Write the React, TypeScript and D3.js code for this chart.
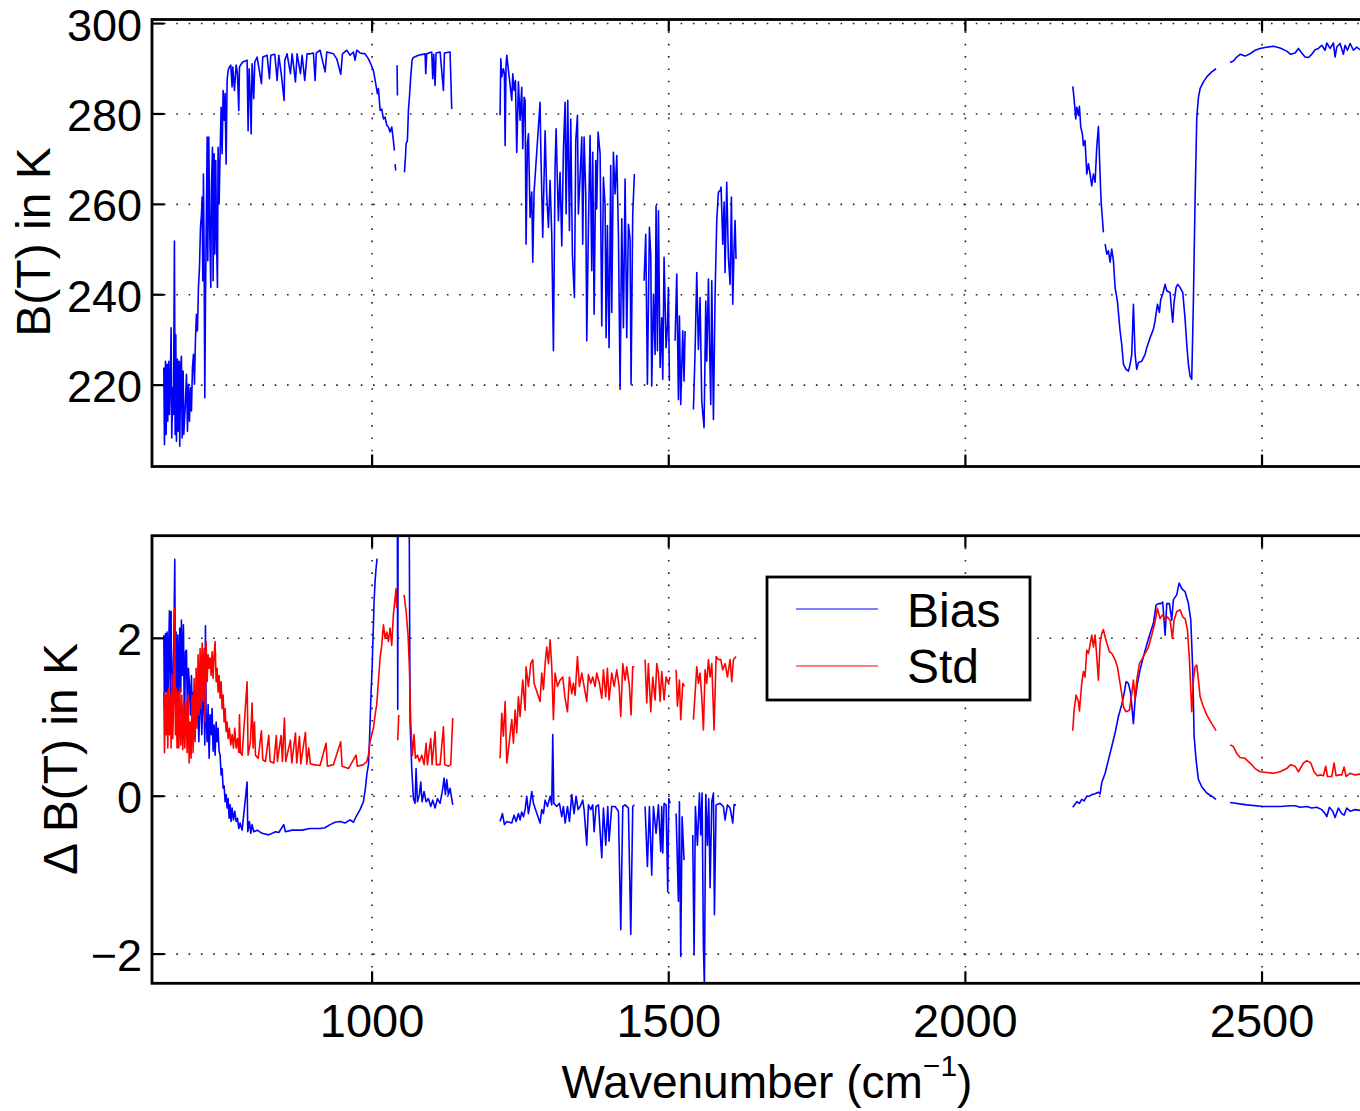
import React from 'react'
import * as d3 from 'd3'

const xTicks = [1000, 1500, 2000, 2500]
const btTicks = [220, 240, 260, 280, 300]
const dbtTicks = [-2, 0, 2]

// [wavenumber, value]; null value = gap in the spectrum
const btA = [[648.9,223.9],[650.0,206.8],[651.7,225.3],[652.8,209.1],[654.5,224.6],[655.6,212.0],[657.3,225.3],[658.4,213.5],[660.1,222.4],[661.2,232.7],[662.3,208.3],[664.0,219.4],[665.2,213.5],[666.8,251.9],[668.0,209.1],[669.1,231.2],[670.2,207.6],[671.9,225.7],[673.0,209.8],[674.7,225.3],[675.8,206.5],[677.5,224.6],[678.6,226.4],[679.8,208.3],[681.5,223.1],[682.6,209.1],[685.4,216.5],[687.1,222.4],[688.8,209.8],[690.4,220.2],[692.1,212.0],[693.8,219.4],[695.5,214.3],[697.2,223.9],[698.9,226.8],[700.6,220.2],[702.2,229.8],[703.9,235.7],[705.6,232.0],[707.3,241.6],[709.0,246.0],[710.7,254.9],[712.4,257.8],[713.5,261.6],[714.6,243.1],[715.7,266.7],[716.8,249.0],[718.0,217.2],[719.1,237.9],[720.8,259.3],[722.0,274.9],[723.0,247.5],[724.7,274.9],[726.4,253.4],[728.1,241.6],[729.2,263.8],[730.9,272.6],[732.0,243.1],[733.7,271.2],[734.8,249.0],[736.5,269.7],[737.6,253.4],[739.3,241.6],[740.4,272.6],[742.1,260.1],[743.8,271.2],[745.5,281.5],[747.2,271.2],[748.9,285.2],[750.6,278.6],[752.2,284.5],[753.9,268.9],[755.6,287.4],[757.3,289.6],[759.5,290.4],[761.8,290.8],[764.0,286.0],[765.2,290.4],[768.0,285.2],[770.8,290.8],[773.0,288.9],[775.3,280.8],[776.4,290.4],[779.8,291.1],[782.0,291.5],[789.3,291.9],[791.0,276.3],[792.7,290.0],[794.4,284.8],[796.1,275.6],[797.7,291.1],[800.5,283.4],[802.2,291.5],[806.2,292.6],[813.5,286.7],[815.7,292.6],[823.0,293.0],[827.0,287.8],[829.2,293.0],[836.0,293.2],[839.9,287.4],[842.7,293.0],[847.2,288.5],[851.7,283.0],[852.8,291.9],[856.7,293.3],[862.3,288.9],[865.2,293.3],[870.8,287.1],[873.6,293.3],[879.2,288.9],[882.0,293.0],[886.5,287.4],[890.4,293.3],[896.0,293.3],[901.1,293.5],[903.9,287.4],[906.0,293.5],[912.3,294.1],[920.8,289.3],[923.6,293.7],[934.8,293.3],[940.4,292.2],[947.2,288.8],[950.0,293.3],[957.3,294.1],[962.9,293.0],[968.5,293.7],[971.3,291.9],[974.1,294.1],[979.7,293.5],[988.2,293.3],[993.8,292.2],[997.7,291.1],[1002.2,289.6],[1005.6,287.1],[1008.9,284.5],[1010.6,285.6],[1013.5,280.8],[1016.2,281.1],[1019.1,278.9],[1021.9,279.3],[1024.7,277.5],[1027.5,277.1],[1030.3,276.0],[1033.1,277.1],[1035.9,274.1],[1037.6,271.9],[1038.2,null],[1038.7,268.9],[1039.8,267.5],[1041.0,null],[1042.1,290.8],[1042.7,284.1],[1048.0,null],[1054.5,267.1],[1056.2,270.4],[1057.3,273.4],[1059.5,274.1],[1061.2,280.8],[1062.9,283.7],[1065.1,288.2],[1067.4,291.9],[1069.6,292.5],[1078.1,293.0],[1089.3,293.3],[1090.4,288.9],[1092.1,293.3],[1100.5,293.7],[1102.2,287.8],[1103.9,293.2],[1106.1,286.3],[1107.8,293.5],[1114.6,293.7],[1120.2,285.2],[1121.9,293.5],[1131.4,293.7],[1134.2,281.1]]

const btB = [[1215.7,279.7],[1216.9,292.2],[1218.5,288.2],[1221.3,290.0],[1223.0,288.9],[1224.2,273.0],[1225.8,290.8],[1227.0,293.0],[1235.4,283.0],[1237.1,288.9],[1239.3,285.2],[1241.6,287.4],[1243.8,271.5],[1246.6,287.1],[1249.4,278.6],[1252.2,285.9],[1253.9,272.3],[1256.2,283.7],[1257.9,283.0],[1259.5,251.2],[1261.8,273.4],[1263.5,275.6],[1266.3,257.1],[1269.1,262.7],[1270.8,247.2],[1273.0,262.7],[1283.1,282.6],[1284.3,272.6],[1287.6,252.7],[1291.6,276.3],[1294.4,261.9],[1297.2,254.9],[1300.0,265.3],[1302.8,253.1],[1305.6,227.6],[1308.4,268.2],[1310.1,276.7],[1314.0,256.4],[1316.8,267.1],[1319.7,250.8],[1322.5,272.3],[1325.3,282.6],[1327.0,257.9],[1329.8,283.0],[1332.6,254.2],[1334.8,278.9],[1337.6,249.0],[1339.3,243.8],[1341.0,239.4],[1343.3,274.1],[1346.1,279.7],[1347.7,257.9],[1353.4,274.9],[1355.0,251.2],[1357.3,274.9],[1360.1,262.3],[1361.8,229.8],[1364.6,254.9],[1367.4,275.2],[1370.2,245.3],[1371.9,271.5],[1374.2,235.7],[1377.0,269.7],[1378.6,259.0],[1380.9,276.0],[1384.3,271.2],[1387.1,233.1],[1389.9,266.0],[1392.7,259.7],[1394.4,230.5],[1396.6,255.3],[1399.4,228.3],[1402.2,268.6],[1403.9,236.1],[1406.7,271.5],[1409.5,262.3],[1412.4,270.8],[1415.2,253.1],[1418.0,219.1],[1420.8,256.8],[1423.6,232.7],[1426.4,265.6],[1429.2,230.5],[1432.0,255.6],[1434.8,252.3],[1436.5,220.2],[1439.3,257.9],[1442.1,266.7],[1450,null],[1458.4,243.1],[1461.2,253.4],[1464.0,220.2],[1467.4,254.9],[1469.7,248.6],[1471.3,219.8],[1474.2,240.1],[1477.0,226.8],[1478.6,259.7],[1480.9,227.6],[1482.6,258.6],[1485.4,223.9],[1488.2,234.9],[1489.9,221.3],[1492.1,248.3],[1495.5,228.3],[1497.8,233.1],[1499.4,241.6],[1501.1,220.9],[1505,null],[1510.7,229.8],[1513.5,244.6],[1516.3,216.8],[1518.0,235.3],[1520.2,215.7],[1523.6,232.0],[1525.8,220.9],[1527.5,232.0],[1535,null],[1541.6,214.6],[1544.4,227.6],[1547.2,244.9],[1550.0,227.9],[1552.8,239.4],[1555.6,216.5],[1559.5,210.6],[1562.4,238.6],[1564.0,225.3],[1566.9,243.5],[1568.5,230.5],[1570.8,215.7],[1572.5,243.1],[1575.3,212.4],[1578.1,240.1],[1580.9,256.4],[1583.7,262.7],[1586.5,263.0],[1588.2,263.8],[1591.0,251.2],[1593.3,260.5],[1594.9,244.9],[1597.7,264.9],[1600.5,248.3],[1603.4,242.3],[1605.6,261.6],[1607.9,237.9],[1610.1,250.5],[1611.8,256.4],[1613.4,247.9]]

const btC = [[2181.0,286.1],[2183.2,283.4],[2186.0,278.9],[2187.7,281.5],[2190.5,279.7],[2192.2,281.7],[2194.4,277.1],[2197.2,275.6],[2198.9,273.0],[2201.7,274.1],[2204.6,266.7],[2207.4,269.0],[2210.2,266.7],[2213.0,264.1],[2215.8,266.7],[2218.6,264.9],[2221.4,272.6],[2224.2,277.2],[2227.0,266.7],[2228.7,260.8],[2232.6,253.8],[2234.0,null],[2235.5,251.2],[2238.3,249.0],[2241.1,249.7],[2243.9,247.2],[2246.7,250.1],[2249.5,247.5],[2252.3,241.6],[2256.2,238.6],[2260.7,232.0],[2263.5,229.0],[2266.4,224.6],[2270.8,223.5],[2274.8,223.1],[2277.6,224.6],[2280.4,226.8],[2283.2,237.9],[2286.0,226.8],[2288.8,223.5],[2291.6,225.0],[2297.3,225.3],[2302.9,226.8],[2305.7,228.3],[2311.3,230.5],[2316.9,232.4],[2319.7,234.2],[2323.7,237.9],[2327.0,236.1],[2329.3,239.0],[2332.6,240.1],[2336.6,242.3],[2339.4,240.9],[2345.0,240.5],[2347.8,236.1],[2349.5,233.9],[2351.7,238.3],[2355.1,241.6],[2357.9,242.3],[2361.9,241.6],[2366.4,240.5],[2370.3,234.6],[2373.1,229.0],[2375.9,224.6],[2378.7,222.0],[2381.5,221.3],[2384.3,238.6],[2387.1,260.8],[2390.0,279.3],[2392.8,283.7],[2395.6,285.6],[2401.2,287.1],[2406.8,288.2],[2415.2,289.3],[2422.5,290.0],[2435,null],[2446.1,291.4],[2451.7,291.7],[2457.4,292.6],[2463.0,293.2],[2471.4,292.8],[2479.8,293.3],[2488.3,294.1],[2496.7,294.5],[2505.1,294.7],[2519.2,295.0],[2530.4,294.6],[2541.6,293.9],[2548.4,293.2],[2555.7,293.5],[2561.3,294.5],[2566.9,293.5],[2572.5,292.6],[2578.1,292.5],[2583.8,293.2],[2589.4,294.2],[2595.0,294.5],[2600.6,295.2],[2606.2,294.1],[2609.1,295.7],[2614.7,294.5],[2620.3,295.7],[2623.1,292.6],[2625.9,294.8],[2631.5,295.6],[2637.1,293.2],[2640.0,295.2],[2643.9,294.1],[2648.4,295.6],[2654.0,294.1],[2659.6,294.8],[2665.2,294.2]]

const biasA = [[648.9,2.04],[650.0,1.11],[651.7,2.06],[652.8,1.32],[654.5,2.08],[655.6,0.78],[657.3,1.96],[658.4,2.35],[660.1,1.20],[661.2,2.34],[662.3,0.73],[664.0,1.53],[665.7,1.91],[667.4,3.00],[668.5,1.20],[669.6,2.08],[670.8,0.94],[672.5,2.04],[674.1,1.11],[675.8,2.13],[677.5,1.32],[678.6,2.23],[680.3,1.53],[682.0,2.17],[683.7,0.78],[685.4,1.83],[687.1,1.85],[688.8,0.94],[690.4,1.62],[692.1,1.41],[693.8,1.03],[695.5,1.53],[697.2,0.90],[698.9,1.32],[700.6,0.73],[702.2,1.28],[704.5,0.94],[706.2,1.32],[707.9,0.69],[709.5,1.11],[711.2,1.32],[712.9,0.78],[714.6,1.20],[716.3,1.30],[718.0,0.65],[719.1,2.16],[720.2,1.03],[721.9,0.69],[723.6,1.16],[725.3,0.48],[726.9,1.03],[728.6,0.78],[730.3,1.11],[732.0,0.57],[733.7,0.90],[735.4,0.52],[737.1,0.94],[738.8,0.69],[740.4,0.86],[742.1,0.57],[743.8,0.52],[745.5,0.27],[747.2,0.35],[748.9,0.10],[750.6,0.13],[752.2,-0.07],[753.9,0.02],[755.6,-0.15],[757.3,-0.03],[759.0,-0.28],[760.7,-0.11],[762.3,-0.32],[764.0,-0.15],[766.3,-0.30],[768.5,-0.19],[770.8,-0.32],[773.0,-0.28],[775.3,-0.41],[777.5,-0.34],[780.9,-0.43],[789.3,0.18],[790.4,-0.45],[793.2,-0.32],[795.5,-0.47],[797.7,-0.36],[800.5,-0.45],[806.2,-0.43],[814.6,-0.47],[825.8,-0.49],[837.1,-0.45],[842.7,-0.46],[851.1,-0.36],[853.9,-0.45],[865.2,-0.43],[882.0,-0.43],[895.5,-0.41],[912.3,-0.41],[920.7,-0.40],[929.2,-0.36],[937.6,-0.33],[946.0,-0.32],[954.4,-0.34],[962.9,-0.30],[968.5,-0.33],[973.0,-0.26],[979.7,-0.17],[985.3,-0.07],[988.7,0.10],[991.0,0.27],[993.8,0.40],[995.5,0.69],[996.6,0.94],[998.3,1.32],[1000.0,1.62],[1001.1,1.91],[1002.2,2.17],[1003.3,2.46],[1005.0,2.72],[1006.7,2.89],[1008.4,3.01],[1010,null],[1042.5,3.6],[1043.2,1.1],[1043.8,3.6],[1048,null],[1055,3.6],[1062.5,3.6],[1064.0,0.94],[1066.8,0.35],[1069.6,-0.03],[1072.4,-0.09],[1074.1,0.35],[1076.4,-0.07],[1079.7,0.02],[1082.0,0.18],[1084.2,-0.07],[1087.6,0.06],[1091.0,-0.07],[1094.9,-0.03],[1098.8,-0.13],[1102.2,-0.05],[1106.1,-0.15],[1110.1,-0.03],[1114.6,-0.09],[1119.1,0.10],[1121.3,0.23],[1123.5,0.02],[1125.8,0.21],[1128.6,0.02],[1131.4,0.10],[1134.2,-0.03],[1135.9,-0.11]]

const biasB = [[1215.7,-0.32],[1219.7,-0.22],[1223.0,-0.36],[1227.0,-0.32],[1235.4,-0.34],[1239.3,-0.24],[1242.7,-0.32],[1246.6,-0.22],[1249.4,-0.30],[1252.2,-0.20],[1255.1,-0.26],[1257.9,-0.17],[1260.7,0.00],[1263.5,-0.22],[1266.3,-0.09],[1269.1,0.06],[1271.9,-0.09],[1283.1,-0.34],[1285.9,-0.17],[1288.8,-0.22],[1291.6,-0.05],[1295.5,-0.13],[1300.0,0.00],[1302.8,-0.11],[1304.5,0.78],[1306.2,-0.09],[1311.2,-0.13],[1315.7,-0.09],[1319.7,-0.26],[1322.5,-0.13],[1325.3,-0.34],[1329.3,-0.13],[1332.6,-0.32],[1336.5,0.02],[1340.4,-0.22],[1343.8,0.00],[1347.2,-0.17],[1350.6,-0.13],[1355.0,-0.05],[1357.3,-0.17],[1361.8,-0.62],[1364.6,-0.11],[1368.5,-0.17],[1371.9,-0.11],[1374.2,-0.45],[1377.5,-0.13],[1381.5,-0.11],[1387.1,-0.78],[1389.9,-0.15],[1393.8,-0.62],[1397.2,-0.13],[1399.4,-0.57],[1403.9,-0.13],[1409.5,-0.13],[1415.2,-0.19],[1419.1,-1.69],[1422.5,-0.13],[1426.4,-0.11],[1432.0,-0.15],[1436.0,-1.75],[1439.3,-0.13],[1442.1,-0.11],[1450,null],[1460.1,-0.13],[1464.0,-0.89],[1467.4,-0.13],[1471.3,-1.00],[1474.2,-0.13],[1478.6,-0.47],[1482.6,-0.11],[1486.5,-0.70],[1488.2,-0.13],[1489.9,-0.72],[1492.1,-0.09],[1495.5,-0.11],[1498.3,-1.21],[1500.0,-0.03],[1502.2,-0.09],[1505,null],[1512.4,-0.22],[1516.3,-1.33],[1518.0,-0.07],[1520.2,-2.03],[1522.5,-0.26],[1525.8,-0.81],[1535,null],[1540.4,-0.49],[1542.7,-2.01],[1544.9,-0.13],[1548.3,-0.62],[1551.7,0.04],[1553.9,-0.49],[1556.2,0.04],[1558.4,-1.90],[1560.1,-2.41],[1562.4,0.02],[1565.2,-0.62],[1567.4,-0.03],[1569.7,-1.16],[1572.5,-0.07],[1575.3,0.04],[1577.0,-1.50],[1579.8,-0.11],[1586.5,-0.09],[1592.1,-0.13],[1594.9,-0.30],[1598.9,-0.11],[1603.4,-0.15],[1607.9,-0.34],[1610.1,-0.11],[1613.4,-0.11]]

const biasC = [[2181.0,-0.14],[2187.7,-0.07],[2192.2,-0.09],[2196.1,-0.04],[2200.1,-0.06],[2204.6,0.00],[2209.0,0.00],[2213.0,0.02],[2218.6,0.03],[2224.2,0.05],[2227.0,0.03],[2229.8,0.17],[2235.5,0.29],[2241.1,0.46],[2246.7,0.63],[2252.3,0.80],[2257.9,1.01],[2263.5,1.16],[2267.5,1.30],[2270.8,1.45],[2274.8,1.43],[2278.7,1.30],[2283.2,0.92],[2286.0,1.22],[2290.0,1.43],[2294.4,1.60],[2300.1,1.77],[2305.7,1.92],[2311.3,2.06],[2316.9,2.19],[2321.4,2.42],[2325.3,2.44],[2329.3,2.44],[2332.6,2.46],[2336.6,2.04],[2339.4,2.44],[2343.9,2.44],[2347.8,2.23],[2350.6,2.49],[2356.2,2.55],[2360.2,2.70],[2364.7,2.63],[2370.3,2.59],[2375.9,2.44],[2379.9,2.23],[2383.2,1.60],[2385.5,0.76],[2388.8,0.46],[2392.8,0.21],[2398.4,0.12],[2406.8,0.04],[2415.2,0.00],[2422.5,-0.04],[2435,null],[2446.1,-0.08],[2474.2,-0.11],[2502.3,-0.13],[2530.4,-0.13],[2547.3,-0.12],[2555.7,-0.12],[2564.1,-0.14],[2575.3,-0.13],[2583.8,-0.15],[2592.2,-0.14],[2600.6,-0.17],[2606.2,-0.22],[2609.1,-0.26],[2613.5,-0.14],[2619.2,-0.19],[2623.1,-0.27],[2628.7,-0.15],[2634.3,-0.22],[2638.3,-0.24],[2642.7,-0.15],[2648.4,-0.19],[2656.8,-0.17],[2665.2,-0.18]]

const stdA = [[648.9,1.32],[650.0,0.55],[651.7,1.28],[652.8,0.78],[654.5,1.32],[655.6,0.61],[657.3,1.37],[658.4,0.78],[660.1,1.28],[661.2,0.61],[662.3,1.54],[664.0,0.73],[665.7,1.28],[667.4,2.38],[668.5,0.78],[669.6,1.37],[671.3,0.61],[673.0,1.32],[674.1,0.61],[675.8,1.37],[677.5,0.65],[679.2,1.28],[680.9,0.59],[682.6,1.20],[684.3,0.61],[686.5,1.20],[688.2,0.55],[689.9,1.28],[691.6,0.42],[693.3,0.94],[694.9,0.48],[696.6,1.28],[698.3,0.55],[700.0,1.49],[701.7,0.69],[703.4,1.62],[705.0,0.86],[706.7,1.79],[708.4,1.03],[710.1,1.87],[711.8,1.11],[713.5,1.94],[715.2,1.20],[716.8,1.87],[718.5,0.94],[720.2,1.96],[721.9,1.45],[723.6,1.79],[725.3,1.62],[726.9,1.75],[728.6,1.53],[730.3,1.83],[732.0,1.49],[733.7,1.79],[735.4,1.96],[737.1,1.45],[738.8,1.62],[740.4,1.32],[742.1,1.53],[743.8,1.24],[745.5,1.45],[747.2,1.11],[748.9,1.28],[750.6,0.94],[752.2,1.11],[753.9,0.82],[755.6,0.94],[757.3,0.73],[759.5,0.86],[761.8,0.65],[764.0,0.78],[766.3,0.61],[768.5,0.86],[770.8,0.61],[773.0,0.73],[775.3,0.55],[776.4,1.03],[778.1,0.55],[780.9,0.52],[789.3,1.45],[791.0,0.52],[794.9,0.69],[797.7,1.18],[799.4,0.61],[801.7,0.94],[803.4,0.52],[807.9,0.48],[813.5,0.83],[815.7,0.46],[820.2,0.44],[825.8,0.77],[828.1,0.44],[834.2,0.42],[838.6,0.77],[840.4,0.44],[846.6,0.77],[848.8,0.44],[852.2,0.99],[854.4,0.44],[862.3,0.71],[864.6,0.42],[870.8,0.80],[873.0,0.42],[877.5,0.76],[879.8,0.41],[887.6,0.81],[889.9,0.41],[893.2,0.61],[896.0,0.41],[901.1,0.40],[912.3,0.39],[922.4,0.67],[924.7,0.38],[934.8,0.40],[947.1,0.69],[949.4,0.38],[960.1,0.35],[973.0,0.52],[975.2,0.38],[985.3,0.40],[991.0,0.44],[993.8,0.52],[996.6,0.69],[999.4,0.78],[1002.2,0.86],[1005.0,1.03],[1007.8,1.16],[1010.6,1.45],[1013.4,1.75],[1016.2,1.91],[1019.1,2.17],[1021.9,2.00],[1024.7,2.08],[1027.5,1.96],[1030.3,2.13],[1033.1,1.91],[1035.9,2.30],[1038.7,2.51],[1040.4,2.63],[1041.5,2.38],[1042.0,null],[1043.2,0.71],[1044.9,1.03],[1048,null],[1053.9,2.55],[1057.3,2.34],[1060.6,2.04],[1062.9,1.62],[1065.1,0.94],[1067.9,0.52],[1070.7,0.78],[1073.0,0.48],[1076.4,0.52],[1079.7,0.44],[1083.7,0.52],[1087.6,0.40],[1091.0,0.67],[1093.2,0.40],[1098.8,0.73],[1101.1,0.40],[1106.1,0.82],[1108.4,0.40],[1114.6,0.40],[1120.2,0.88],[1122.4,0.40],[1128.6,0.38],[1132.5,0.40],[1135.9,0.99]]

const stdB = [[1215.7,0.48],[1218.5,1.05],[1221.3,0.76],[1224.2,1.20],[1227.0,0.42],[1229.8,0.59],[1235.4,0.97],[1238.2,0.67],[1241.0,1.09],[1243.8,0.80],[1246.6,1.26],[1249.4,1.01],[1253.9,1.47],[1257.9,1.09],[1259.5,1.64],[1263.5,1.39],[1267.4,1.68],[1270.8,1.73],[1273.0,1.43],[1283.1,1.20],[1285.9,1.56],[1288.8,1.35],[1291.6,1.68],[1294.4,1.89],[1297.2,1.68],[1300.0,1.98],[1302.8,1.64],[1305.6,0.97],[1308.4,1.56],[1312.4,1.39],[1316.8,1.47],[1321.3,1.51],[1325.3,1.24],[1329.2,1.07],[1332.6,1.51],[1336.5,1.30],[1339.3,1.43],[1342.1,1.28],[1346.1,1.77],[1349.4,1.39],[1353.4,1.56],[1357.3,1.39],[1361.8,1.20],[1364.6,1.54],[1368.5,1.43],[1371.9,1.51],[1375.8,1.39],[1378.6,1.56],[1383.1,1.43],[1387.1,1.24],[1389.9,1.60],[1393.8,1.26],[1396.6,1.62],[1399.4,1.22],[1403.9,1.56],[1407.9,1.39],[1412.4,1.60],[1416.3,1.39],[1419.1,1.01],[1422.5,1.68],[1426.4,1.47],[1429.2,1.64],[1433.7,1.39],[1436.5,1.03],[1439.3,1.64],[1442.1,1.64],[1450,null],[1460.1,1.73],[1462.9,1.18],[1465.7,1.68],[1469.7,1.07],[1473.0,1.51],[1477.0,1.22],[1479.8,1.68],[1482.6,1.56],[1485.4,1.20],[1488.2,1.58],[1492.1,1.22],[1495.5,1.51],[1499.4,1.43],[1502.2,1.51],[1505,null],[1512.4,1.60],[1514.6,1.14],[1518.0,1.47],[1520.2,0.97],[1523.6,1.43],[1526.4,1.39],[1535,null],[1541.6,0.97],[1544.4,1.30],[1547.2,1.64],[1550.0,1.43],[1552.8,1.56],[1555.6,1.26],[1558.4,0.84],[1561.2,1.60],[1564.0,1.43],[1566.9,1.73],[1569.7,1.51],[1572.5,1.68],[1576.4,0.84],[1579.8,1.77],[1583.7,1.73],[1587.7,1.73],[1591.0,1.60],[1595.0,1.68],[1598.9,1.51],[1603.4,1.73],[1606.2,1.45],[1609.0,1.73],[1613.4,1.77]]

const stdC = [[2181.0,0.83],[2183.2,1.09],[2186.6,1.28],[2190.5,1.20],[2192.2,1.08],[2196.1,1.43],[2198.9,1.58],[2201.7,1.51],[2204.6,1.85],[2207.4,1.81],[2210.2,1.92],[2213.0,2.04],[2215.8,1.89],[2218.6,2.04],[2221.4,1.77],[2224.2,1.47],[2227.0,1.94],[2229.8,2.06],[2232.6,2.11],[2235.5,2.02],[2238.3,1.94],[2242.8,1.83],[2246.7,1.81],[2252.3,1.73],[2256.2,1.64],[2260.7,1.43],[2263.5,1.30],[2266.4,1.13],[2270.8,1.07],[2276.5,1.09],[2280.4,1.30],[2283.2,1.47],[2286.0,1.22],[2288.8,1.47],[2293.3,1.68],[2297.3,1.73],[2302.9,1.81],[2308.5,1.89],[2314.1,2.04],[2319.7,2.21],[2323.7,2.38],[2328.1,2.25],[2332.6,2.30],[2336.6,2.23],[2340.5,2.27],[2345.0,2.23],[2348.9,2.00],[2351.7,2.23],[2356.2,2.34],[2361.9,2.36],[2366.4,2.27],[2370.3,2.25],[2374.2,2.11],[2377.6,1.73],[2381.5,1.07],[2384.3,1.47],[2387.1,1.64],[2390.0,1.66],[2392.8,1.47],[2395.6,1.26],[2401.2,1.13],[2406.8,1.03],[2415.2,0.92],[2422.5,0.83],[2435,null],[2446.1,0.65],[2451.7,0.63],[2457.4,0.54],[2463.0,0.49],[2471.4,0.48],[2479.8,0.42],[2488.3,0.35],[2496.7,0.31],[2507.9,0.30],[2519.2,0.29],[2530.4,0.31],[2541.6,0.35],[2548.4,0.40],[2555.7,0.38],[2561.3,0.31],[2569.7,0.42],[2575.3,0.45],[2582.1,0.42],[2587.7,0.31],[2593.3,0.26],[2598.9,0.27],[2603.4,0.26],[2607.4,0.38],[2610.2,0.25],[2617.5,0.25],[2621.4,0.42],[2624.8,0.26],[2630.4,0.27],[2634.3,0.27],[2638.3,0.37],[2641.6,0.25],[2648.4,0.29],[2656.8,0.27],[2665.2,0.28]]

const font = '"Liberation Sans", Arial, Helvetica, sans-serif'
const blue = '#0000ff'
const red = '#ff0000'

const width = 1360
const height = 1111

const x = d3.scaleLinear().domain([629, 2700]).range([152, 1380.7])
const yTop = d3.scaleLinear().domain([202, 300.9]).range([466.5, 19.5])
const yBot = d3.scaleLinear().domain([-2.37, 3.3]).range([983.3, 535.7])

const Panel = ({ id, y, ticks, series, xLabels }) => {
  const [x0, x1] = x.range()
  const [yb, yt] = y.range()
  const line = d3.line()
    .defined(d => d[1] !== null)
    .x(d => x(d[0]))
    .y(d => y(d[1]))
  return (
    <g>
      <defs>
        <clipPath id={id}>
          <rect x={x0} y={yt} width={x1 - x0} height={yb - yt} />
        </clipPath>
      </defs>
      {/* dotted grid */}
      <g stroke="#222" strokeWidth={1.6} strokeDasharray="1.6 10.7">
        {ticks.map(t => (
          <line key={'h' + t} x1={x0 + 12} x2={x1} y1={y(t)} y2={y(t)} />
        ))}
        {xTicks.map(t => (
          <line key={'v' + t} x1={x(t)} x2={x(t)} y1={yt + 12} y2={yb - 12} />
        ))}
      </g>
      <g clipPath={`url(#${id})`} fill="none" strokeWidth={1.6} strokeLinejoin="round">
        {series.map((s, i) => (
          <path key={i} d={line(s.data)} stroke={s.color} />
        ))}
      </g>
      <rect x={x0} y={yt} width={x1 - x0} height={yb - yt} fill="none" stroke="#000" strokeWidth={2.8} />
      <g stroke="#000" strokeWidth={2.2}>
        {ticks.map(t => (
          <line key={'yt' + t} x1={x0} x2={x0 + 12} y1={y(t)} y2={y(t)} />
        ))}
        {xTicks.map(t => (
          <g key={'xt' + t}>
            <line x1={x(t)} x2={x(t)} y1={yb} y2={yb - 12} />
            <line x1={x(t)} x2={x(t)} y1={yt} y2={yt + 12} />
          </g>
        ))}
      </g>
      <g fontFamily={font} fontSize={45} textAnchor="end">
        {ticks.map(t => (
          <text key={'l' + t} x={x0 - 10} y={y(t) + 17}>
            {t < 0 ? '\u2212' + Math.abs(t) : t}
          </text>
        ))}
      </g>
      {xLabels && (
        <g fontFamily={font} fontSize={47} textAnchor="middle">
          {xTicks.map(t => (
            <text key={'xl' + t} x={x(t)} y={1037}>{t}</text>
          ))}
        </g>
      )}
    </g>
  )
}

const App = () => {
  return (
    <svg width={width} height={height} style={{ position: 'absolute', left: 0, top: 0, background: '#fff' }}>
      <rect width={width} height={height} fill="#fff" />
      <Panel id="clipTop" y={yTop} ticks={btTicks}
        series={[{ data: btA, color: blue }, { data: btB, color: blue }, { data: btC, color: blue }]} />
      <Panel id="clipBot" y={yBot} ticks={dbtTicks} xLabels
        series={[
          { data: biasA, color: blue }, { data: biasB, color: blue }, { data: biasC, color: blue },
          { data: stdA, color: red }, { data: stdB, color: red }, { data: stdC, color: red },
        ]} />

      <text transform="translate(50,242) rotate(-90)" fontFamily={font} fontSize={48} textAnchor="middle">B(T) in K</text>
      <text transform="translate(77,759) rotate(-90)" fontFamily={font} fontSize={48} textAnchor="middle">{'\u0394 B(T) in K'}</text>
      <text x={767} y={1098} fontFamily={font} fontSize={46} textAnchor="middle">
        Wavenumber (cm<tspan dy={-22} fontSize={30}>{'\u22121'}</tspan><tspan dy={22}>)</tspan>
      </text>

      <g fontFamily={font} fontSize={48}>
        <rect x={767} y={577} width={263} height={123} fill="#fff" stroke="#000" strokeWidth={2.8} />
        <line x1={796} x2={878} y1={609} y2={609} stroke={blue} strokeWidth={1.2} />
        <line x1={796} x2={878} y1={666} y2={666} stroke={red} strokeWidth={1.2} />
        <text x={907} y={627}>Bias</text>
        <text x={907} y={683}>Std</text>
      </g>
    </svg>
  )
}

export default App
